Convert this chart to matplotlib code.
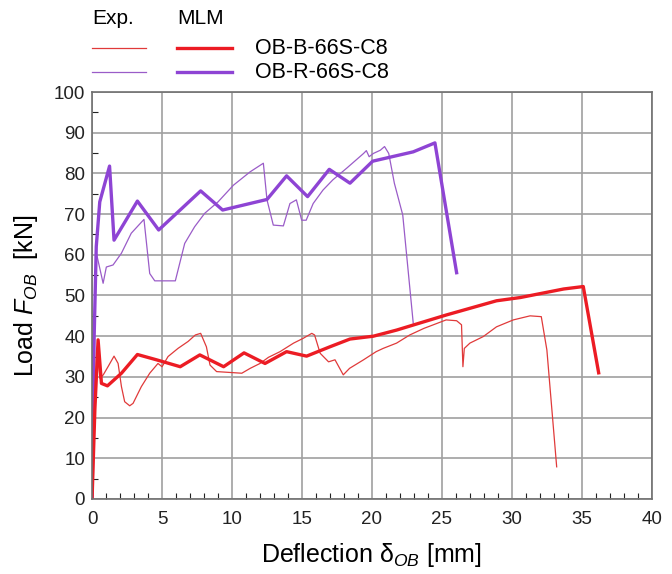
import matplotlib.pyplot as plt
from matplotlib.lines import Line2D
from matplotlib.ticker import MultipleLocator

plt.rcParams['font.family'] = 'Liberation Sans'
plt.rcParams['mathtext.fontset'] = 'custom'
plt.rcParams['mathtext.rm'] = 'Liberation Sans'
plt.rcParams['mathtext.it'] = 'Liberation Sans:italic'

# Experimental curve, specimen OB-B-66S-C8
exp_b_x = [0, 0.2, 0.4, 0.55, 0.8, 1.14, 1.57, 1.86, 2.1, 2.33, 2.69, 2.93, 3.52,
           4.12, 4.71, 5.0, 5.43, 6.14, 6.86, 7.38, 7.76, 8.17, 8.43, 8.9, 10.7,
           11.3, 12.0, 12.6, 13.43, 14.4, 15.1, 15.7, 15.9, 16.3, 16.9, 17.36,
           17.95, 18.4, 19.4, 20.3, 20.8, 21.76, 22.7, 23.7, 25.3, 26.05, 26.4,
           26.5, 26.6, 27.0, 27.95, 28.9, 30.1, 31.3, 32.1, 32.5, 33.2]
exp_b_y = [0, 20, 38, 29.7, 30.5, 32.5, 35.1, 33.3, 27.6, 23.9, 22.9, 23.5, 27.6,
           30.9, 33.3, 32.5, 35.0, 37.0, 38.7, 40.3, 40.7, 37.4, 32.9, 31.3, 30.9,
           32.1, 33.3, 34.8, 36.2, 38.3, 39.5, 40.7, 40.3, 35.8, 33.7, 34.2,
           30.5, 32.1, 34.2, 36.2, 37.0, 38.3, 40.3, 41.9, 44.0, 43.8, 42.8,
           32.5, 37.0, 38.3, 39.9, 42.3, 44.0, 45.0, 44.8, 36.6, 7.9]

# Model curve, specimen OB-B-66S-C8
mlm_b_x = [0, 0.2, 0.43, 0.67, 1.1, 2.1, 3.24, 4.6, 6.3, 7.7, 9.4, 10.86, 12.36,
           13.9, 15.33, 17.0, 18.43, 20.1, 21.76, 25.3, 28.9, 30.6, 33.7, 35.1, 36.2]
mlm_b_y = [0, 22, 39.1, 28.4, 27.8, 30.9, 35.5, 34.2, 32.5, 35.4, 32.5, 35.9, 33.3,
           36.2, 35.1, 37.4, 39.3, 40.0, 41.5, 45.2, 48.7, 49.5, 51.6, 52.2, 31.0]

# Experimental curve, specimen OB-R-66S-C8
exp_r_x = [0, 0.15, 0.31, 0.79, 1.02, 1.5, 2.1, 2.8, 3.71, 4.12, 4.48, 5.95, 6.62,
           7.33, 8.05, 9.0, 10.1, 11.3, 12.24, 12.5, 12.95, 13.67, 14.14, 14.6,
           14.98, 15.3, 15.8, 16.5, 17.2, 18.2, 19.4, 19.6, 19.8, 20.1, 20.6, 20.9,
           21.2, 21.6, 22.2, 22.95]
exp_r_y = [0, 40, 60.4, 53.0, 57.0, 57.5, 60.4, 65.3, 68.7, 55.4, 53.6, 53.6, 62.8,
           66.9, 70.2, 73.0, 77.1, 80.4, 82.5, 73.5, 67.3, 67.1, 72.6, 73.5,
           68.5, 68.5, 72.6, 75.9, 78.4, 81.3, 84.9, 85.6, 84.1, 84.9, 85.7, 86.6,
           84.9, 77.6, 69.8, 43.2]

# Model curve, specimen OB-R-66S-C8
mlm_r_x = [0, 0.15, 0.3, 0.55, 1.25, 1.57, 3.24, 4.76, 7.76, 9.33, 12.5, 13.9,
           15.4, 16.95, 18.43, 20.05, 22.95, 24.5, 26.05]
mlm_r_y = [0, 40, 62, 73, 81.8, 63.6, 73.2, 66.1, 75.7, 71.0, 73.6, 79.4,
           74.3, 81.0, 77.6, 83.0, 85.3, 87.5, 55.6]

red = '#ec1c24'
red_thin = '#e03a3a'
purple = '#8e44d4'
purple_thin = '#9a5cc8'
thin_lw = 0.9
thick_lw = 2.4

fig = plt.figure(figsize=(6.72, 5.74), dpi=100)
ax = fig.add_axes([0.137, 0.1307, 0.833, 0.709])

ax.plot(exp_b_x, exp_b_y, color=red_thin, lw=thin_lw)
ax.plot(exp_r_x, exp_r_y, color=purple_thin, lw=thin_lw)
ax.plot(mlm_r_x, mlm_r_y, color=purple, lw=thick_lw)
ax.plot(mlm_b_x, mlm_b_y, color=red, lw=thick_lw)

ax.set_xlim(0, 40)
ax.set_ylim(0, 100)
ax.xaxis.set_major_locator(MultipleLocator(5))
ax.xaxis.set_minor_locator(MultipleLocator(1))
ax.yaxis.set_major_locator(MultipleLocator(10))
ax.yaxis.set_minor_locator(MultipleLocator(5))
ax.tick_params(which='both', direction='in', labelsize=13.5, colors='#222222')
ax.tick_params(which='major', length=0)
ax.tick_params(axis='x', which='major', pad=9)
ax.tick_params(axis='y', which='major', pad=5)
ax.tick_params(which='minor', length=4, width=0.8)
ax.grid(True, which='major', color='#a0a0a0', lw=1.2)
ax.set_axisbelow(True)
for s in ax.spines.values():
    s.set_color('#707070')
    s.set_linewidth(1.2)

ax.set_xlabel('Deflection δ$_{OB}$ [mm]', fontsize=18, labelpad=9)
ax.set_ylabel('Load $F_{OB}$  [kN]', fontsize=18, labelpad=10)

# Legend above the axes: one column per source, one row per specimen
fig.text(92 / 672, 1 - 19 / 574, 'Exp.', fontsize=15, va='center', ha='left')
fig.text(177 / 672, 1 - 19 / 574, 'MLM', fontsize=15, va='center', ha='left')
rows = [('OB-B-66S-C8', red_thin, red, 48), ('OB-R-66S-C8', purple_thin, purple, 72)]
for label, c_exp, c_mlm, py in rows:
    yy = 1 - py / 574
    fig.add_artist(Line2D([92 / 672, 146 / 672], [yy, yy], color=c_exp, lw=thin_lw))
    fig.add_artist(Line2D([177 / 672, 232 / 672], [yy, yy], color=c_mlm, lw=thick_lw))
    fig.text(255 / 672, yy, label, fontsize=15.5, va='center', ha='left')

fig.savefig('out.png', dpi=100)
